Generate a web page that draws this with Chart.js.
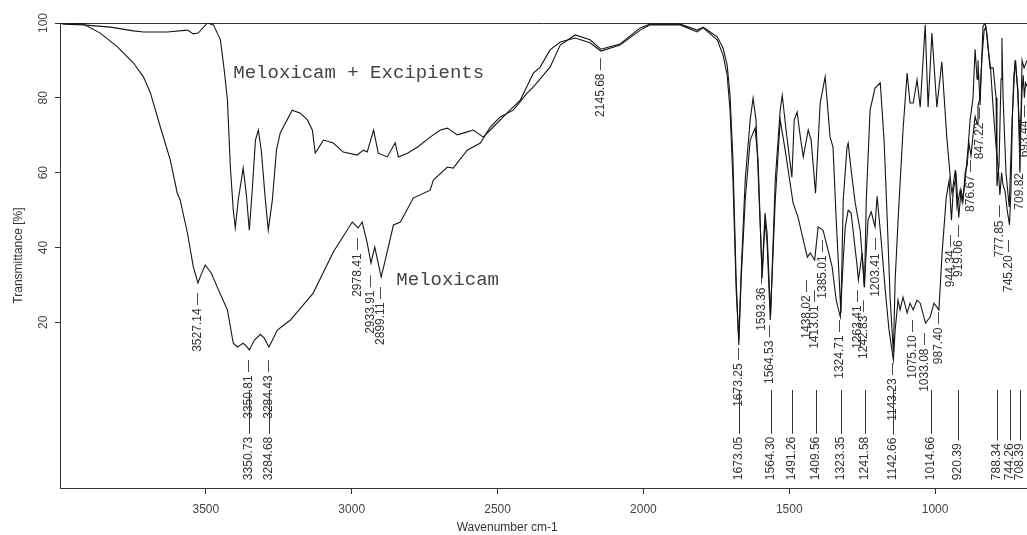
<!DOCTYPE html>
<html>
<head>
<meta charset="utf-8">
<script src="https://cdn.jsdelivr.net/npm/chart.js@4.4.1/dist/chart.umd.min.js"></script>
<style>
  html, body { margin: 0; padding: 0; background: #fff; }
  #wrap { width: 1027px; height: 535px; position: relative; }
</style>
</head>
<body>
<div id="wrap"><canvas id="irChart"></canvas></div>
<script>
// wavenumber (cm-1), transmittance (%)
const meloxicam = [
  [3999,100],[3964,100],[3920,99.7],[3862,97.3],[3803,93.6],[3748,89.3],[3714,85.6],[3690,81.3],[3656,72.2],
  [3622,63.4],[3598,54.5],[3588,52.7],[3563,43.8],[3543,34.8],[3527,30.5],[3515,33.0],[3502,35.3],[3481,33.1],
  [3461,29.4],[3426,23.3],[3406,14.4],[3392,13.4],[3382,13.9],[3372,14.4],[3361,13.6],[3351,12.6],[3334,15.2],
  [3313,16.8],[3300,15.8],[3284,13.4],[3272,15.2],[3255,17.9],[3210,20.6],[3132,27.8],[3063,38.8],[2998,46.8],
  [2978,45.2],[2964,46.8],[2947,41.2],[2934,35.8],[2921,40.1],[2899,32.1],[2885,36.6],[2857,46.0],[2833,46.8],
  [2789,53.2],[2731,55.3],[2720,58.0],[2672,61.5],[2652,61.2],[2604,66.0],[2559,67.9],[2525,72.2],[2491,74.9],
  [2446,76.7],[2398,81.3],[2377,82.9],[2320,88.2],[2285,94.1],[2234,96.8],[2183,95.5],[2146,93.0],[2080,94.4],
  [2011,98.7],[1977,99.7],[1874,99.7],[1816,98.1],[1795,98.9],[1771,97.6],[1747,96.3],[1727,93.3],[1713,88.8],
  [1703,80.7],[1693,63.4],[1682,31.3],[1673,13.9],[1665,31.3],[1651,52.7],[1634,68.7],[1617,71.9],[1607,63.4],
  [1593,31.8],[1583,47.3],[1576,41.2],[1565,20.6],[1548,52.7],[1531,74.1],[1514,66.0],[1487,51.9],[1470,48.1],
  [1452,42.0],[1438,37.4],[1428,38.5],[1413,36.6],[1401,45.5],[1384,44.6],[1367,39.3],[1353,34.8],[1339,25.9],
  [1325,21.4],[1315,36.6],[1308,45.5],[1298,50.0],[1288,49.2],[1267,34.8],[1263,31.3],[1250,38.5],[1243,29.4],
  [1230,47.3],[1219,49.5],[1206,45.5],[1199,53.7],[1185,42.0],[1171,28.6],[1158,17.9],[1143,9.9],[1137,17.9],
  [1127,25.9],[1120,23.3],[1110,26.7],[1096,22.5],[1086,25.1],[1075,23.3],[1062,25.9],[1051,25.1],[1033,19.8],
  [1017,21.4],[1004,25.1],[987,23.3],[976,38.5],[962,53.2],[952,58.0],[944,47.3],[938,55.0],[928,59.4],
  [919,48.0],[911,55.3],[904,52.7],[897,60.0],[890,62.0],[884,68.0],[877,64.5],[870,70.0],[863,75.0],
  [856,73.0],[853,78.0],[847,79.5],[840,90.0],[832,98.0],[826,99.0],[818,93.0],[810,88.0],[800,76.0],
  [790,66.0],[784,62.0],[778,54.0],[772,60.0],[768,57.0],[760,55.0],[753,50.0],[745,46.0],[740,55.0],
  [735,75.0],[730,86.0],[724,90.0],[718,83.0],[712,74.0],[710,67.0],[706,73.0],[702,82.0],[698,86.0],
  [694,80.0],[690,84.0],[685,83.0]
];

const meloxicamExcipients = [
  [3999,100],[3988,99.7],[3920,99.5],[3827,98.9],[3748,97.9],[3714,97.6],[3632,97.6],[3563,98.1],[3543,97.1],
  [3526,97.3],[3495,100],[3474,99.5],[3450,95.5],[3437,87.4],[3426,79.4],[3416,61.5],[3406,50.0],[3399,45.2],
  [3389,52.7],[3372,61.2],[3361,54.0],[3351,44.6],[3341,55.3],[3330,68.7],[3320,71.4],[3310,66.0],[3296,52.7],
  [3286,44.6],[3272,52.7],[3258,66.0],[3245,70.6],[3204,76.7],[3176,75.9],[3152,74.1],[3135,71.4],[3125,65.2],
  [3097,68.7],[3063,67.9],[3029,65.5],[2981,64.7],[2960,66.0],[2947,65.5],[2925,71.4],[2909,65.2],[2878,64.2],
  [2851,68.0],[2840,64.2],[2809,65.2],[2775,66.8],[2731,69.5],[2696,71.4],[2672,71.9],[2638,70.1],[2604,70.9],
  [2583,71.4],[2549,69.5],[2515,72.2],[2467,76.0],[2422,79.4],[2377,86.6],[2354,88.2],[2320,92.8],[2285,94.9],
  [2234,96.0],[2183,94.7],[2146,92.5],[2080,94.1],[2011,98.1],[1977,99.5],[1874,99.5],[1816,97.6],[1795,98.7],
  [1771,97.1],[1747,95.5],[1727,91.4],[1713,86.1],[1703,76.7],[1693,58.0],[1682,28.6],[1673,15.2],[1665,33.4],
  [1651,58.0],[1634,74.1],[1624,79.9],[1614,74.1],[1593,33.1],[1583,49.2],[1576,43.8],[1564,21.9],[1548,58.0],
  [1531,76.7],[1524,80.7],[1511,71.4],[1491,58.8],[1483,74.1],[1473,76.2],[1463,70.1],[1452,64.2],[1435,71.4],
  [1425,68.7],[1410,54.5],[1394,78.6],[1377,85.6],[1360,69.5],[1350,66.8],[1339,47.3],[1323,22.5],[1315,52.7],
  [1302,66.8],[1298,67.9],[1288,60.7],[1274,51.9],[1257,44.6],[1242,29.4],[1236,52.7],[1223,76.7],[1206,82.6],
  [1188,84.0],[1175,68.7],[1164,47.3],[1154,26.0],[1143,12.0],[1137,31.3],[1127,47.3],[1110,71.4],[1096,86.6],
  [1086,78.6],[1075,78.6],[1062,84.8],[1051,77.5],[1034,99.5],[1024,77.5],[1011,97.3],[994,77.5],[977,89.6],
  [960,69.5],[945,56.1],[942,54.5],[931,60.7],[925,50.8],[914,55.3],[907,52.0],[897,58.0],[887,66.8],
  [880,74.1],[870,80.0],[863,93.0],[856,85.0],[853,90.0],[846,78.0],[836,99.0],[829,100],[822,97.0],
  [812,88.0],[801,88.0],[791,80.0],[788,56.4],[781,62.0],[774,85.0],[771,96.0],[767,80.0],[757,60.0],
  [746,50.8],[736,74.1],[726,90.0],[716,82.0],[709,60.0],[702,90.0],[695,88.0],[685,90.0]
];

const xTicks = [1000, 1500, 2000, 2500, 3000, 3500];
const yTicks = [20, 40, 60, 80, 100];

// peak labels hanging under the Meloxicam curve (label top in % T)
const upperPeaks = [3527.14, 3350.81, 3284.43, 2978.41, 2933.91, 2899.11, 2145.68, 1673.25, 1593.36, 1564.53,
  1438.02, 1413.01, 1385.01, 1324.71, 1263.41, 1242.83, 1203.41, 1143.23, 1075.10, 1033.08, 987.40,
  944.34, 919.06, 876.67, 847.22, 777.85, 745.20, 709.82, 693.44];
const upperTops = [27.8, 9.9, 9.9, 42.5, 32.6, 29.4, 90.6, 13.1, 33.4, 19.2,
  31.3, 28.6, 42.0, 20.6, 28.6, 25.9, 42.5, 9.1, 20.6, 17.1, 22.7,
  43.3, 46.0, 63.4, 77.5, 51.3, 42.0, 64.0, 78.0];

// peak labels of Meloxicam + Excipients, in a row along the bottom
const lowerPeaks = [3350.73, 3284.68, 1673.05, 1564.30, 1491.26, 1409.56, 1323.35, 1241.58, 1142.66,
  1014.66, 920.39, 788.34, 744.26, 708.39];
const lowerBase = -22.2;
const lowerLineTop = 1.9;

const toPoints = arr => arr.map(p => ({ x: p[0], y: p[1] }));

const annotate = {
  id: 'annotate',
  beforeDatasetsDraw(chart) {
    const { ctx, chartArea } = chart;
    ctx.save();
    ctx.strokeStyle = '#333';
    ctx.lineWidth = 1;
    ctx.beginPath();
    ctx.moveTo(chartArea.left, chartArea.top + 0.5);
    ctx.lineTo(chartArea.right, chartArea.top + 0.5);
    ctx.stroke();
    ctx.restore();
  },
  afterDatasetsDraw(chart) {
    const { ctx, scales: { x, y } } = chart;
    ctx.save();
    ctx.font = '12px "Liberation Sans", Arial, sans-serif';
    ctx.fillStyle = '#333';
    ctx.strokeStyle = '#333';
    ctx.lineWidth = 1;
    ctx.textBaseline = 'middle';

    upperPeaks.forEach((wn, i) => {
      ctx.save();
      ctx.translate(Math.round(x.getPixelForValue(wn)), y.getPixelForValue(upperTops[i]));
      ctx.rotate(-Math.PI / 2);
      ctx.textAlign = 'right';
      ctx.fillText(wn.toFixed(2) + ' \u2014', 0, 0);
      ctx.restore();
    });

    lowerPeaks.forEach(wn => {
      const px = Math.round(x.getPixelForValue(wn));
      const base = y.getPixelForValue(lowerBase);
      const label = wn.toFixed(2);
      const w = ctx.measureText(label).width;
      ctx.save();
      ctx.translate(px, base);
      ctx.rotate(-Math.PI / 2);
      ctx.textAlign = 'left';
      ctx.fillText(label, 0, 0);
      ctx.restore();
      ctx.beginPath();
      ctx.moveTo(px + 0.5, base - w - 3);
      ctx.lineTo(px + 0.5, y.getPixelForValue(lowerLineTop));
      ctx.stroke();
    });

    ctx.font = '19px "Liberation Mono", "Courier New", monospace';
    ctx.fillStyle = '#444';
    ctx.textAlign = 'left';
    ctx.fillText('Meloxicam + Excipients', x.getPixelForValue(3406), y.getPixelForValue(86.6));
    ctx.fillText('Meloxicam', x.getPixelForValue(2847), y.getPixelForValue(31.3));

    // x axis title
    ctx.font = '12px "Liberation Sans", Arial, sans-serif';
    ctx.fillStyle = '#333';
    ctx.textAlign = 'center';
    ctx.fillText('Wavenumber cm-1', x.getPixelForValue(2467), 528);
    ctx.restore();
  }
};

const ctx = document.getElementById('irChart').getContext('2d');
new Chart(ctx, {
  type: 'line',
  data: {
    datasets: [
      {
        label: 'Meloxicam',
        data: toPoints(meloxicam),
        borderColor: '#151515',
        borderWidth: 1.1,
        pointRadius: 0,
        tension: 0
      },
      {
        label: 'Meloxicam + Excipients',
        data: toPoints(meloxicamExcipients),
        borderColor: '#151515',
        borderWidth: 1.1,
        pointRadius: 0,
        tension: 0
      }
    ]
  },
  options: {
    responsive: true,
    maintainAspectRatio: false,
    animation: false,
    layout: { padding: { top: 23, right: 0, left: 0, bottom: 0 } },
    plugins: {
      legend: { display: false },
      tooltip: { enabled: false }
    },
    scales: {
      x: {
        type: 'linear',
        reverse: true,
        min: 685,
        max: 4000,
        afterBuildTicks: scale => { scale.ticks = xTicks.map(v => ({ value: v })); },
        afterFit: scale => { scale.height = 47; },
        grid: { drawOnChartArea: false, drawTicks: true, tickLength: 6, color: '#333' },
        border: { display: true, color: '#333' },
        ticks: {
          color: '#444',
          padding: 8,
          maxRotation: 0,
          callback: v => String(v),
          font: { family: '"Liberation Sans", Arial, sans-serif', size: 12 }
        }
      },
      y: {
        min: -24.3,
        max: 100,
        afterBuildTicks: scale => { scale.ticks = yTicks.map(v => ({ value: v })); },
        afterFit: scale => { scale.width = 60; },
        grid: { drawOnChartArea: false, drawTicks: true, tickLength: 5, color: '#333' },
        border: { display: true, color: '#333' },
        title: {
          display: true,
          text: 'Transmittance [%]',
          color: '#333',
          padding: { top: 11, bottom: 0 },
          font: { family: '"Liberation Sans", Arial, sans-serif', size: 12 }
        },
        ticks: {
          color: '#444',
          padding: 1,
          minRotation: 90,
          maxRotation: 90,
          crossAlign: 'center',
          callback: v => String(v),
          font: { family: '"Liberation Sans", Arial, sans-serif', size: 12 }
        }
      }
    }
  },
  plugins: [annotate]
});
</script>
</body>
</html>
